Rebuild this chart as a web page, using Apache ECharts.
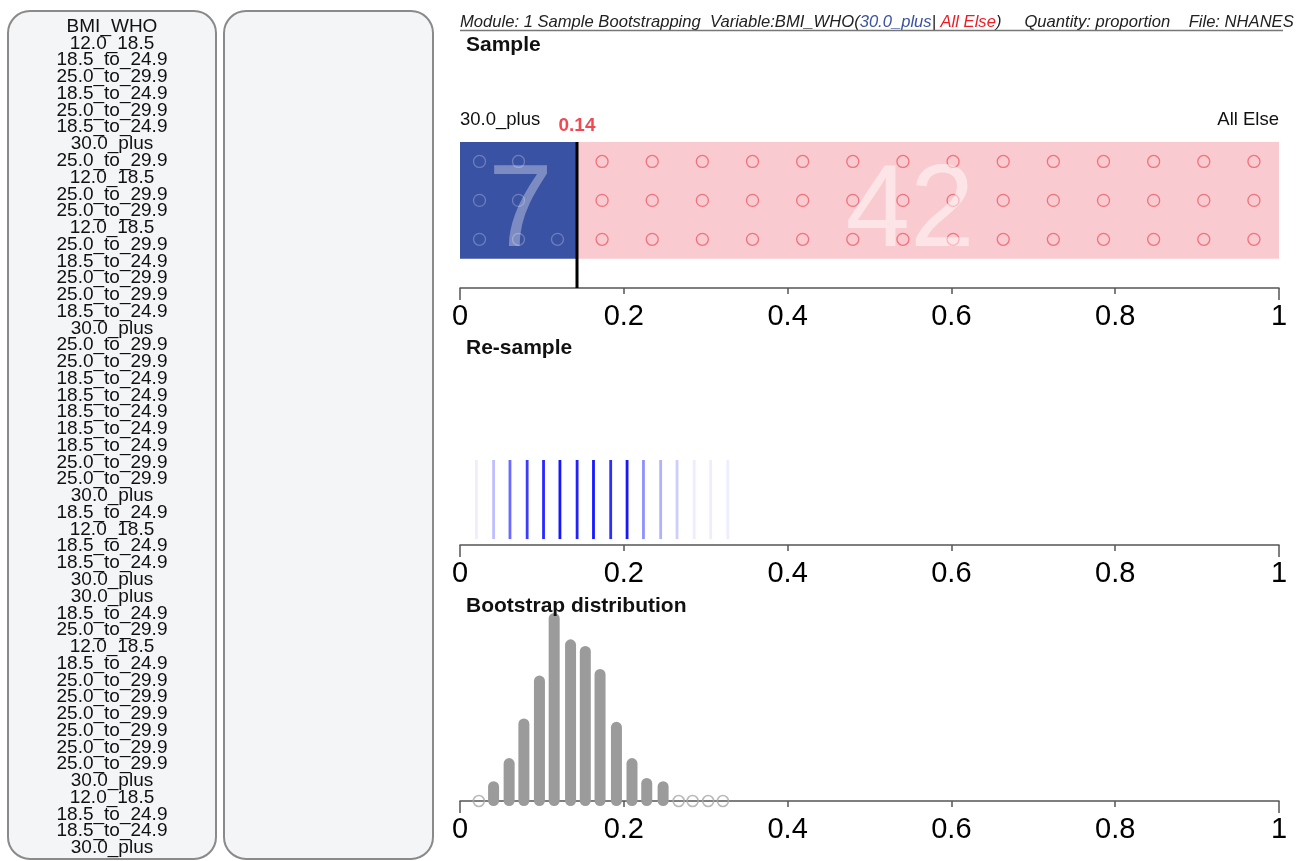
<!DOCTYPE html>
<html><head><meta charset="utf-8">
<script src="https://cdn.jsdelivr.net/npm/echarts@6/dist/echarts.min.js"></script>
<style>html,body{margin:0;padding:0;background:#fff;}#c{width:1311px;height:861px;}</style>
</head><body><div id="c"></div>
<script>
// ---------------- DATA ----------------
const variableName = 'BMI_WHO';
const sampleValues = [
 '12.0_18.5','18.5_to_24.9','25.0_to_29.9','18.5_to_24.9','25.0_to_29.9','18.5_to_24.9','30.0_plus',
 '25.0_to_29.9','12.0_18.5','25.0_to_29.9','25.0_to_29.9','12.0_18.5','25.0_to_29.9','18.5_to_24.9',
 '25.0_to_29.9','25.0_to_29.9','18.5_to_24.9','30.0_plus','25.0_to_29.9','25.0_to_29.9','18.5_to_24.9',
 '18.5_to_24.9','18.5_to_24.9','18.5_to_24.9','18.5_to_24.9','25.0_to_29.9','25.0_to_29.9','30.0_plus',
 '18.5_to_24.9','12.0_18.5','18.5_to_24.9','18.5_to_24.9','30.0_plus','30.0_plus','18.5_to_24.9',
 '25.0_to_29.9','12.0_18.5','18.5_to_24.9','25.0_to_29.9','25.0_to_29.9','25.0_to_29.9','25.0_to_29.9',
 '25.0_to_29.9','25.0_to_29.9','30.0_plus','12.0_18.5','18.5_to_24.9','18.5_to_24.9','30.0_plus'
];
const groupLabels = ['30.0_plus', 'All Else'];
const sampleCounts = [7, 42];
const axisTicks = [0, 0.2, 0.4, 0.6, 0.8, 1];
const headerModule = 'Module: 1 Sample Bootstrapping';
const headerQuantity = 'Quantity: proportion';
const headerFile = 'File: NHANES';
const sectionTitles = ['Sample', 'Re-sample', 'Bootstrap distribution'];
// re-sample proportions seen (vertical lines) and how often (line strength)
const resampleProps  = [0.020,0.041,0.061,0.082,0.102,0.122,0.143,0.163,0.184,0.204,0.224,0.245,0.265,0.286,0.306,0.327];
const resampleCounts = [1,4,12,20,26,34,28,34,24,34,8,5,3,1,1,1];
// bootstrap distribution (dot-plot columns)
const bootProps  = [0.023,0.041,0.060,0.078,0.097,0.115,0.135,0.153,0.171,0.191,0.210,0.228,0.248,0.267,0.284,0.303,0.321];
const bootCounts = [1,6,13,25,38,57,49,47,40,24,13,7,6,1,1,1,1];

// ---------------- DERIVED ----------------
const total = sampleCounts[0] + sampleCounts[1];
const pHat = sampleCounts[0] / total;
const regions = [[0, pHat], [pHat, 1]];
const groupColors = ['#3a52a3', '#f9cacf'];
const dotColors = ['rgba(255,255,255,0.32)', '#ef5b66'];
const bigColors = ['rgba(255,255,255,0.42)', 'rgba(255,255,255,0.62)'];
const bigOffsets = [[2, 14], [-18, 14]];
const rowsY = [1/6, 0.5, 5/6];
function dotsFor(g) {
  const n = sampleCounts[g], [a, b] = regions[g];
  const cols = Math.ceil(n / 3), w = (b - a) / cols, out = [];
  for (let i = 0; i < n; i++) out.push([a + w * (Math.floor(i / 3) + 0.5), rowsY[i % 3]]);
  return out;
}

const FONT = 'Liberation Sans, Arial, sans-serif';
const chart = echarts.init(document.getElementById('c'), null, {renderer: 'canvas'});

const graphics = [];
// side panels
graphics.push({type:'rect', shape:{x:8, y:11, width:208, height:848, r:22}, style:{fill:'#f4f5f7', stroke:'#8a8a8a', lineWidth:2}, z:0});
graphics.push({type:'rect', shape:{x:224, y:11, width:209, height:848, r:22}, style:{fill:'#f4f5f7', stroke:'#8a8a8a', lineWidth:2}, z:0});
[variableName].concat(sampleValues).forEach((t, i) => {
  graphics.push({type:'text', x:112, y:26.7 + i * 16.76, z:2,
    style:{text:t, fill:'#111', font:'19px ' + FONT, textAlign:'center', textVerticalAlign:'middle'}});
});
// header
const hs = {fontSize:16.6, fontStyle:'italic', fontFamily:FONT};
graphics.push({type:'text', x:460, y:22, z:2,
  style:{text:'{a|' + headerModule + '  Variable:' + variableName + '(}{b|' + groupLabels[0] + '}{a|| }{c|' + groupLabels[1] + '}{a|)     ' + headerQuantity + '    ' + headerFile + '}',
    textVerticalAlign:'middle',
    rich:{a:Object.assign({fill:'#222'}, hs), b:Object.assign({fill:'#3a52a3'}, hs), c:Object.assign({fill:'#ee1c25'}, hs)}}});
graphics.push({type:'line', shape:{x1:460, y1:30.5, x2:1283, y2:30.5}, style:{stroke:'#777', lineWidth:1.5}, z:2});
// section titles
[[sectionTitles[0], 45], [sectionTitles[1], 348], [sectionTitles[2], 606]].forEach(([t, y]) => {
  graphics.push({type:'text', x:466, y:y, z:5, style:{text:t, font:'bold 21px ' + FONT, fill:'#111', textVerticalAlign:'middle'}});
});
// group labels
graphics.push({type:'text', x:460, y:120, style:{text:groupLabels[0], font:'18.5px ' + FONT, fill:'#111', textVerticalAlign:'middle'}});
graphics.push({type:'text', x:1279, y:120, style:{text:groupLabels[1], font:'18.5px ' + FONT, fill:'#111', textAlign:'right', textVerticalAlign:'middle'}});

function mainX(i) {
  return {gridIndex:i, type:'value', min:0, max:1, interval:0.2, position:'bottom',
    axisLine:{onZero:false, lineStyle:{color:'#555', width:1.5}},
    axisTick:{length:6, lineStyle:{color:'#555', width:1.5}},
    axisLabel:{fontSize:29, color:'#000', margin:14, fontFamily:FONT,
      formatter: v => { const t = axisTicks.find(a => Math.abs(a - v) < 1e-9); return t === undefined ? '' : String(t); }},
    splitLine:{show:false}};
}
function endX(i) {
  return {gridIndex:i, type:'value', min:0, max:1, interval:1, position:'bottom',
    axisLine:{show:false, onZero:false}, axisTick:{length:12, lineStyle:{color:'#555', width:1.5}},
    axisLabel:{show:false}, splitLine:{show:false}};
}

const option = {
  animation:false,
  backgroundColor:'#fff',
  graphic: graphics,
  grid:[
    {left:460, width:819, top:142, height:146},
    {left:460, width:819, top:460, height:85},
    {left:460, width:819, top:603, height:198}
  ],
  xAxis:[mainX(0), mainX(1), mainX(2), endX(0), endX(1), endX(2)],
  yAxis:[
    {gridIndex:0, type:'value', min:-0.25, max:1, show:false},
    {gridIndex:1, type:'value', min:0, max:1, show:false},
    {gridIndex:2, type:'value', min:0, max:60, show:false}
  ],
  series:[
    // sample regions
    {type:'custom', xAxisIndex:0, yAxisIndex:0, z:1,
      data: regions.map((r, i) => [r[0], r[1], i]),
      encode:{x:[0,1]},
      renderItem:(params, api) => {
        const s = api.coord([api.value(0), 1]);
        const e = api.coord([api.value(1), 0]);
        return {type:'rect', shape:{x:s[0], y:s[1], width:e[0]-s[0], height:e[1]-s[1]},
          style:{fill:groupColors[params.dataIndex]}};
      }},
    // sample dots
    ...[0, 1].map(g => ({type:'scatter', xAxisIndex:0, yAxisIndex:0, z:3,
      data: dotsFor(g), symbol:'circle', symbolSize:12, silent:true,
      itemStyle:{color:'rgba(0,0,0,0)', borderColor:dotColors[g], borderWidth:1.3}})),
    // big count labels
    {type:'scatter', xAxisIndex:0, yAxisIndex:0, z:4, symbolSize:1,
      data: regions.map((r, i) => ({value:[(r[0] + r[1]) / 2, 0.5],
        label:{show:true, position:'inside', offset:bigOffsets[i], color:bigColors[i], fontFamily:FONT, fontSize:116,
          formatter: String(sampleCounts[i])}})),
      itemStyle:{color:'rgba(0,0,0,0)'}},
    // sample proportion line
    {type:'line', xAxisIndex:0, yAxisIndex:0, z:6, symbol:'none',
      data:[[pHat, -0.25], [pHat, 1]], lineStyle:{color:'#000', width:3}},
    // sample proportion label
    {type:'scatter', xAxisIndex:0, yAxisIndex:0, z:6, symbolSize:0,
      data:[[pHat, 1]],
      label:{show:true, position:'top', distance:7, formatter: () => pHat.toFixed(2),
        color:'#ee1c25', fontWeight:'bold', fontSize:19, fontFamily:FONT}},
    // re-sample lines
    {type:'custom', xAxisIndex:1, yAxisIndex:1, z:3,
      data: resampleProps.map((x, i) => [x, resampleCounts[i]]),
      encode:{x:0},
      renderItem:(params, api) => {
        const x = api.value(0), c = api.value(1);
        const top = api.coord([x, 1]), bot = api.coord([x, 0.07]);
        const a = 1 - Math.pow(0.93, c);
        return {type:'line', shape:{x1:top[0], y1:top[1], x2:bot[0], y2:bot[1]},
          style:{stroke:'rgba(0,0,255,' + a.toFixed(3) + ')', lineWidth:2.8}};
      }},
    // bootstrap bars (stacked dots)
    {type:'custom', xAxisIndex:2, yAxisIndex:2, z:3,
      data: bootProps.map((x, i) => [x, bootCounts[i]]).filter(d => d[1] > 1),
      encode:{x:0, y:1},
      renderItem:(params, api) => {
        const x = api.value(0), c = api.value(1);
        const top = api.coord([x, c]), base = api.coord([x, 0]);
        return {type:'rect', shape:{x:top[0]-5.5, y:top[1], width:11, height:base[1]-top[1]+5, r:[5.5,5.5,5.5,5.5]},
          style:{fill:'#9b9b9b'}};
      }},
    // bootstrap single dots
    {type:'scatter', xAxisIndex:2, yAxisIndex:2, z:4, symbolSize:11,
      data: bootProps.map((x, i) => [x, bootCounts[i]]).filter(d => d[1] === 1).map(d => [d[0], 0]),
      itemStyle:{color:'rgba(255,255,255,0)', borderColor:'#a8a8a8', borderWidth:1.6}}
  ]
};
chart.setOption(option);
</script></body></html>
